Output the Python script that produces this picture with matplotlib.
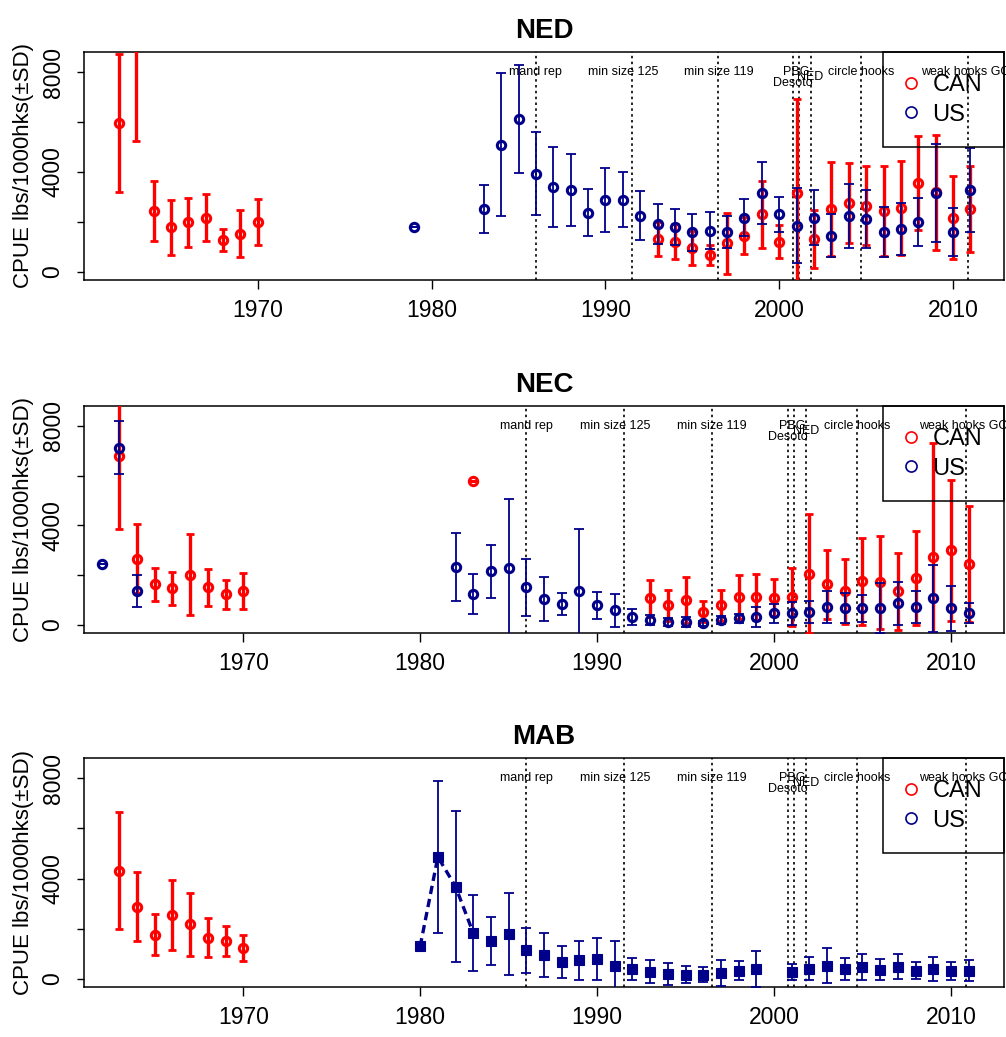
import matplotlib
matplotlib.use('Agg')
import matplotlib.pyplot as plt
from matplotlib.lines import Line2D

plt.rcParams['font.family'] = ['Liberation Sans', 'DejaVu Sans']

RED = '#FF0000'
BLUE = '#00008B'

# ---------------- NED ----------------
ned_can_years = [1962, 1963, 1964, 1965, 1966, 1967, 1968, 1969, 1970,
                 1993, 1994, 1995, 1996, 1997, 1998, 1999, 2000, 2001, 2002,
                 2003, 2004, 2005, 2006, 2007, 2008, 2009, 2010, 2011]
ned_can_cpue = [5960, 9800, 2450, 1800, 2000, 2180, 1290, 1540, 2000,
                1340, 1210, 960, 690, 1160, 1460, 2320, 1220, 3170, 1330,
                2520, 2770, 2650, 2450, 2580, 3560, 3190, 2180, 2520]
ned_can_sd = [2750, 4540, 1190, 1100, 980, 950, 450, 930, 920,
              680, 700, 670, 400, 1220, 740, 1340, 660, 3750, 1150,
              1880, 1600, 1580, 1800, 1880, 1880, 2300, 1660, 1730]

ned_us_years = [1979, 1983, 1984, 1985, 1986, 1987, 1988, 1989, 1990, 1991,
                1992, 1993, 1994, 1995, 1996, 1997, 1998, 1999, 2000, 2001,
                2002, 2003, 2004, 2005, 2006, 2007, 2008, 2009, 2010, 2011]
ned_us_cpue = [1800, 2520, 5100, 6130, 3940, 3410, 3280, 2380, 2890, 2890,
               2260, 1930, 1800, 1600, 1660, 1600, 2180, 3170, 2320, 1860,
               2180, 1460, 2250, 2120, 1600, 1720, 2000, 3160, 1600, 3290]
ned_us_sd = [0, 950, 2850, 2150, 1660, 1600, 1430, 940, 1270, 1100,
             970, 800, 720, 740, 740, 650, 730, 1240, 700, 1500,
             1100, 870, 1270, 1170, 1000, 1050, 950, 1960, 970, 1690]

# ---------------- NEC ----------------
nec_can_years = [1963, 1964, 1965, 1966, 1967, 1968, 1969, 1970, 1983,
                 1993, 1994, 1995, 1996, 1997, 1998, 1999, 2000, 2001, 2002,
                 2003, 2004, 2005, 2006, 2007, 2008, 2009, 2010, 2011]
nec_can_cpue = [6800, 2670, 1640, 1470, 2030, 1510, 1240, 1370, 5790,
                1070, 800, 1000, 530, 800, 1130, 1130, 1090, 1130, 2070,
                1630, 1360, 1760, 1710, 1360, 1890, 2730, 3000, 2470]
nec_can_sd = [2930, 1400, 670, 650, 1640, 750, 580, 720, 0,
              750, 620, 930, 420, 620, 900, 930, 740, 1150, 2400,
              1370, 1300, 1750, 1850, 1550, 1900, 4600, 2830, 2330]

nec_us_years = [1962, 1963, 1964, 1982, 1983, 1984, 1985, 1986, 1987, 1988,
                1989, 1990, 1991, 1992, 1993, 1994, 1995, 1996, 1997, 1998,
                1999, 2000, 2001, 2002, 2003, 2004, 2005, 2006, 2007, 2008,
                2009, 2010, 2011]
nec_us_cpue = [2470, 7130, 1360, 2330, 1240, 2160, 2290, 1510, 1040, 850,
               1370, 800, 590, 330, 200, 130, 130, 70, 200, 270,
               330, 470, 470, 530, 730, 670, 670, 670, 870, 730,
               1070, 670, 470]
nec_us_sd = [0, 1080, 650, 1370, 810, 1070, 2770, 1130, 880, 430,
             2470, 540, 650, 320, 200, 150, 200, 100, 150, 180,
             400, 380, 450, 450, 650, 600, 550, 1000, 850, 650,
             1330, 900, 400]

# ---------------- MAB ----------------
mab_can_years = [1963, 1964, 1965, 1966, 1967, 1968, 1969, 1970]
mab_can_cpue = [4310, 2880, 1770, 2550, 2170, 1650, 1510, 1250]
mab_can_sd = [2320, 1370, 830, 1390, 1250, 780, 610, 520]

mab_us_years = [1980, 1981, 1982, 1983, 1984, 1985, 1986, 1987, 1988, 1989,
                1990, 1991, 1992, 1993, 1994, 1995, 1996, 1997, 1998, 1999,
                2001, 2002, 2003, 2004, 2005, 2006, 2007, 2008, 2009, 2010,
                2011]
mab_us_cpue = [1300, 4860, 3680, 1830, 1500, 1790, 1140, 960, 670, 740,
               790, 510, 390, 280, 200, 170, 160, 230, 330, 400,
               270, 400, 530, 400, 470, 360, 490, 330, 390, 310,
               330]
mab_us_sd = [0, 3020, 2990, 1500, 950, 1620, 900, 880, 640, 780,
             850, 1000, 450, 460, 440, 330, 300, 520, 380, 730,
             330, 460, 700, 440, 520, 420, 500, 340, 480, 350,
             430]
mab_line_last_year = 1983

# ---------------- regulation events ----------------
event_years = [1986, 1991.55, 1996.5, 2000.8, 2001.15, 2001.8, 2004.7, 2010.85]
event_labels = ['mand rep', 'min size 125', 'min size 119', 'Desoto', 'PBG',
                'NED', 'circle hooks', 'weak hooks GOM']
event_label_x = [1986, 1991.0, 1996.5, 2000.8, 2001.0, 2001.8, 2004.7, 2011.0]
event_label_y = [8000, 8000, 8000, 7550, 8000, 7800, 8000, 8000]

x_ticks = [1970, 1980, 1990, 2000, 2010]
y_ticks = [0, 2000, 4000, 6000, 8000]
y_ticklabels = ['0', '', '4000', '', '8000']
legend_labels = ['CAN', 'US']

panels = [
    dict(title='NED', xlim=(1960.0, 2012.93),
         can=(ned_can_years, ned_can_cpue, ned_can_sd),
         us=(ned_us_years, ned_us_cpue, ned_us_sd), square=False,
         rect=[84 / 1006, 1 - 280 / 1037, 920 / 1006, 228 / 1037]),
    dict(title='NEC', xlim=(1961.0, 2013.0),
         can=(nec_can_years, nec_can_cpue, nec_can_sd),
         us=(nec_us_years, nec_us_cpue, nec_us_sd), square=False,
         rect=[84 / 1006, 1 - 633 / 1037, 920 / 1006, 227 / 1037]),
    dict(title='MAB', xlim=(1961.0, 2013.0),
         can=(mab_can_years, mab_can_cpue, mab_can_sd),
         us=(mab_us_years, mab_us_cpue, mab_us_sd), square=True,
         rect=[84 / 1006, 1 - 987 / 1037, 920 / 1006, 229 / 1037]),
]

fig = plt.figure(figsize=(10.06, 10.37), dpi=100)

for p in panels:
    ax = fig.add_axes(p['rect'])
    ax.set_xlim(*p['xlim'])
    ax.set_ylim(-320, 8800)

    # vertical event lines + labels
    for xv in event_years:
        ax.axvline(xv, color='black', lw=1.2, ls=(0, (1.5, 2.0)), zorder=1)
    for lx, ly, lab in zip(event_label_x, event_label_y, event_labels):
        ax.text(lx, ly, lab, fontsize=9, ha='center', va='center',
                color='black', zorder=6, clip_on=False)

    # CAN (red)
    cy, cv, cs = p['can']
    ax.errorbar(cy, cv, yerr=cs, fmt='none', ecolor=RED, elinewidth=2.4,
                capsize=3, capthick=2.0, zorder=3)
    ax.plot(cy, cv, ls='none', marker='o', ms=6, mfc='none', mec=RED,
            mew=2.2, zorder=4)

    # US (blue)
    uy, uv, us = p['us']
    ax.errorbar(uy, uv, yerr=us, fmt='none', ecolor=BLUE, elinewidth=1.3,
                capsize=3.5, capthick=1.3, zorder=4)
    if p['square']:
        ly = [y for y in uy if y <= mab_line_last_year]
        lv = [v for y, v in zip(uy, uv) if y <= mab_line_last_year]
        ax.plot(ly, lv, color=BLUE, lw=2.4, ls=(0, (2.5, 1.5)), zorder=4)
        ax.plot(uy, uv, ls='none', marker='s', ms=7, mfc=BLUE, mec=BLUE,
                mew=0.8, zorder=5)
    else:
        ax.plot(uy, uv, ls='none', marker='o', ms=6, mfc='none', mec=BLUE,
                mew=2.2, zorder=5)

    ax.set_xticks(x_ticks)
    ax.set_xticklabels([str(t) for t in x_ticks], fontsize=16.5)
    ax.set_yticks(y_ticks)
    ax.set_yticklabels(y_ticklabels, fontsize=16.5, rotation=90, va='center')
    ax.tick_params(axis='x', direction='out', length=6.5, width=1, pad=7)
    ax.tick_params(axis='y', direction='out', length=5, width=1, pad=9)
    for s in ax.spines.values():
        s.set_linewidth(1.1)
        s.set_color('black')

    ax.set_title(p['title'], fontsize=20, fontweight='bold', pad=10)

    handles = [Line2D([], [], ls='none', marker='o', ms=8, mfc='none',
                      mec=RED, mew=1.2),
               Line2D([], [], ls='none', marker='o', ms=8, mfc='none',
                      mec=BLUE, mew=1.2)]
    leg = ax.legend(handles, legend_labels, loc='upper right',
                    bbox_to_anchor=(1, 1), borderaxespad=0, fontsize=17,
                    frameon=True, fancybox=False, framealpha=1,
                    facecolor='none', edgecolor='black', handlelength=0.5,
                    handletextpad=0.66, borderpad=0.93, labelspacing=0.32)
    leg.get_frame().set_linewidth(1.1)
    leg.set_zorder(7)

    bb = p['rect']
    fig.text(23.3 / 1006, bb[1] + bb[3] / 2, 'CPUE lbs/1000hks(\u00b1SD)',
             rotation=90, ha='center', va='center', fontsize=16)

fig.savefig('out.png', dpi=100)
